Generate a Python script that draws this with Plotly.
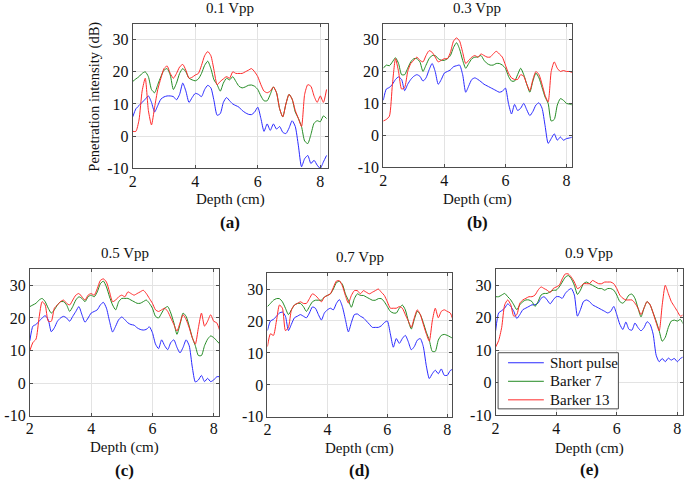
import plotly.graph_objects as go

# ---------------- data ----------------
depth = [2.0, 2.1, 2.2, 2.3, 2.4, 2.5, 2.6, 2.7, 2.8, 2.9,
         3.0, 3.1, 3.2, 3.3, 3.4, 3.5, 3.6, 3.7, 3.8, 3.9,
         4.0, 4.1, 4.2, 4.3, 4.4, 4.5, 4.6, 4.7, 4.8, 4.9,
         5.0, 5.1, 5.2, 5.3, 5.4, 5.5, 5.6, 5.7, 5.8, 5.9,
         6.0, 6.1, 6.2, 6.3, 6.4, 6.5, 6.6, 6.7, 6.8, 6.9,
         7.0, 7.1, 7.2, 7.3, 7.4, 7.5, 7.6, 7.7, 7.8, 7.9,
         8.0, 8.1, 8.2]

series_names = ["Short pulse", "Barker 7", "Barker 13"]
panel_titles = ["0.1 Vpp", "0.3 Vpp", "0.5 Vpp", "0.7 Vpp", "0.9 Vpp"]
panel_labels = ["(a)", "(b)", "(c)", "(d)", "(e)"]
x_tickvals = [2, 4, 6, 8]
y_tickvals = [-10, 0, 10, 20, 30]
y_ticktext = ["-10", "0", "10", "20", "30"]

# 0.1 Vpp
a_short = [6, 8.5, 9.5, 10.5, 11.5, 12.5, 10.5, 7.5, 9.5, 11.5,
           12.2, 12.5, 12.5, 12.3, 11.3, 13, 16.5, 14, 10.5, 12,
           13.3, 13, 12.3, 14.5, 15.8, 15, 11, 6.5, 7, 10.5,
           12, 11, 10, 9.5, 9, 8, 7.3, 6.8, 6.7, 7.5,
           9, 5.5, 1.5, 3.8, 1.8, 3.8, 2.2, 3, 1.2, 0.8,
           2.5, 4.8, 3, -3, -9.5, -7, -6, -8.5, -7.5, -9,
           -10, -8, -6]
a_b7 = [17, 17.8, 18.5, 19.5, 20, 18.5, 14.5, 13.5, 16, 18.5,
        20.5, 21, 19, 14.5, 16.5, 19.5, 21, 20, 18, 17.5,
        17.2, 17.8, 19.5, 22, 23.3, 21, 17.5, 16, 14, 16.5,
        18, 17.5, 18.5, 17, 15.5, 15, 15.3, 15.8, 15.9, 15.5,
        14.5, 12.5, 11, 11, 13, 15.3, 13.5, 8.5, 6, 10,
        13, 11.5, 7.5, 5.5, 3, -1.5, -2.3, 0.5, 4, 4.8,
        4.5, 6.3, 5.5]
a_b13 = [1.5, 1.5, 5, 14, 18, 8, 3.5, 9, 14.5, 18,
         21, 21.8, 19.5, 18, 19.5, 21.5, 22.3, 20.5, 18, 18.3,
         19, 19.5, 22, 25, 26.3, 25, 20.5, 16, 17, 17.8,
         18.5, 18, 20, 19.5, 19.5, 19.5, 20, 20.5, 21, 20,
         18.5, 16, 14, 13.5, 14, 15.3, 13.5, 8.5, 6, 10,
         13, 11.5, 8, 5.5, 3, 13, 16, 15.5, 12.5, 10.5,
         12.5, 10.5, 14.5]

# 0.3 Vpp
b_short = [11, 14.5, 15, 16, 17.5, 18.3, 17.5, 14, 16, 17.5,
           18.5, 19, 18.5, 17, 18, 20.5, 22.5, 20, 16, 17.5,
           19.5, 20, 20.5, 21.5, 21.8, 22, 19, 13.5, 15.5, 17.5,
           18, 17.5, 16.8, 16, 15.5, 15, 14.5, 14, 13.5, 13.8,
           14.8, 10, 6.7, 9.7, 7.8, 8.5, 10, 8, 6.2, 7.5,
           9.5, 10.2, 8.5, 3, -2.5, -1, 0.5, -1.5, -0.5, -1.5,
           -1, -0.8, -0.5]
b_b7 = [21, 22, 21.8, 23, 24.3, 22.5, 19, 19, 21, 23,
        24, 24, 23, 20, 22, 24, 25, 25, 24, 23.5,
        23.5, 24, 25, 27.5, 29, 27, 23.5, 21, 22.5, 24,
        24.5, 24.5, 25, 23.5, 22.5, 22, 22, 22.5, 22.5, 22,
        21, 18.5, 17, 17, 19, 21, 19, 16, 13.5, 17,
        19.5, 18, 15, 12, 10, 4.5, 5, 9.5, 11.5, 11,
        10, 9.8, 9.5]
b_b13 = [4.5, 5, 6, 16, 24, 20, 14.5, 15, 20, 22.5,
         23.5, 24.5, 23.5, 23, 25, 26.5, 26, 24.5, 23, 23.5,
         24, 24, 26, 29.5, 30.5, 29.5, 26, 22.5, 23.5, 24.5,
         25, 24.5, 25.5, 25, 24.5, 24.5, 25.5, 26.3, 25.5, 24.5,
         22, 19.5, 18, 17.5, 17.5, 19, 18.5, 16, 14, 17.5,
         20, 19, 16, 12.5, 10.5, 20, 23, 21, 20, 20.3,
         20, 20, 19.5]

# 0.5 Vpp
c_short = [13, 17.5, 18, 19, 20, 20.7, 19.5, 15.8, 17, 19,
           20, 20.5, 20, 19, 20.5, 22, 23.5, 21, 18.7, 20,
           21.5, 22, 22.5, 24, 24.8, 23, 19, 15.7, 17.5, 19.5,
           20.3, 19.5, 18.5, 18, 17.8, 17, 16.5, 16.3, 16.5, 17.3,
           15.5, 12, 10.6, 13.3, 11.5, 10.3, 12.5, 13.3, 11, 9.3,
           11, 13.3, 11.5, 5, 0.4, 1, 2.4, 0.5, 1.5, 0.5,
           1, 2, 2]
c_b7 = [23.5, 24, 24.5, 25.5, 26, 25, 23, 21.5, 22.5, 24,
        25, 25, 24, 22, 23.5, 25.5, 26.5, 26, 25, 26.5,
        27, 26.5, 28, 30.5, 31.3, 29.5, 26.5, 24, 22.5, 25,
        26, 26, 26, 25.5, 25, 24.5, 24.5, 25, 25.5, 24.5,
        23, 20.5, 20, 21.5, 23, 23.5, 21.5, 18.5, 15, 18,
        21.5, 20.5, 17.5, 14, 11.5, 8.5, 8.5, 11.5, 13.5, 14.5,
        14, 13, 12]
c_b13 = [10, 12.5, 13.5, 20, 25, 24, 19, 19, 23, 24,
         25, 25.5, 24.5, 24, 25.5, 27, 27.5, 26.5, 25.5, 27,
         27.5, 27, 29, 31.5, 32, 31, 28, 25, 25.5, 26.5,
         27, 26.5, 28, 27.5, 27, 27.5, 28, 28.5, 27.5, 26,
         24.5, 22.5, 22, 22.5, 23, 22, 20, 18, 16, 18.5,
         21, 19.5, 17, 14, 12, 17, 21.5, 17.5, 19, 21,
         19, 18.5, 16]

# 0.7 Vpp
d_short = [17, 20, 20.5, 21.5, 22.5, 22.8, 21.5, 17, 19, 21,
           21.5, 22, 21.5, 21, 22.5, 24.4, 24, 22, 20.3, 22.5,
           23.5, 24, 23.5, 25.5, 26.7, 24.5, 20.5, 16.6, 19.5, 22,
           22.2, 21.5, 21, 20, 19, 18, 18, 18, 18.5, 19.5,
           20, 16, 11.8, 14.5, 13, 14.5, 15.5, 13.5, 11, 12,
           14, 14.5, 12, 6, 2, 3.5, 4.6, 3.5, 5, 3,
           3, 4.5, 5]
d_b7 = [24.5, 25.5, 26.5, 27, 27, 26, 24, 22, 23.5, 25,
        25.5, 25.5, 24.5, 23, 24.5, 26, 26.5, 26.5, 26.5, 27.5,
        28, 28.5, 30, 32, 32.4, 31.5, 28.5, 26.5, 24.3, 27,
        28.5, 28, 28, 27.5, 27, 26.5, 26.5, 27, 27, 26,
        24.5, 23, 22.5, 22.5, 24, 25, 23.5, 20, 17.5, 20.5,
        23, 22, 19.5, 16.5, 14, 10.5, 10.5, 14, 15.5, 15.8,
        15.5, 15, 14.5]
d_b13 = [12, 16, 15.5, 20, 25, 24, 17, 18, 23.5, 25,
         25.5, 26, 25.5, 25.5, 27, 28.5, 28, 27, 26, 27.5,
         28, 28.5, 30.5, 32.5, 32.6, 31, 28, 25.6, 28, 29.5,
         29.5, 28.5, 29.5, 29, 28.5, 29, 29.5, 30, 29, 28,
         26, 24, 24, 24, 24.5, 24, 22, 20, 18, 21,
         23.5, 22, 19, 16, 13.7, 20, 24, 21, 23, 23.5,
         23, 22.5, 20]

# 0.9 Vpp
e_short = [16, 21.5, 22.2, 23, 24.3, 23.5, 22, 19.8, 21, 22.5,
           23, 23.5, 24, 24, 24.5, 26, 26.5, 25.5, 24.3, 25.5,
           26.5, 26.5, 26, 27.5, 28.5, 29, 27, 20.5, 22.5, 25,
           25.5, 25, 24, 23.5, 23, 22.5, 22, 21.5, 22, 23.5,
           21, 18, 16.4, 18.7, 16.5, 16.2, 18.4, 17, 16, 17,
           18.8, 18, 15, 8.5, 6.5, 7.5, 6.5, 7.6, 7, 7.5,
           6.5, 7.5, 8]
e_b7 = [26.5, 26.5, 27, 27.5, 26.5, 25.5, 24, 22.5, 24, 25,
        25.5, 25.5, 25, 23.5, 25, 27, 27.5, 27.5, 28, 28.5,
        28.5, 29.5, 31, 32.5, 33, 32, 30, 27.2, 28.5, 30.5,
        31, 30.5, 30, 29.5, 29, 29, 28.5, 29, 29, 28.5,
        27, 25, 24.5, 25.5, 27, 27.3, 26, 23, 20.3, 23,
        25, 24, 21.5, 19, 16, 12.8, 14, 17, 19, 19.3,
        19, 19.5, 18]
e_b13 = [11, 13, 17, 24, 25.5, 24, 20.5, 21, 24.5, 25.5,
         26, 26.5, 26.5, 27, 28.5, 29.5, 29, 28.5, 27.8, 29,
         29.5, 30, 32, 33.5, 33.5, 32.5, 31, 29, 29.5, 30.5,
         30.5, 30.5, 31.5, 31, 30.5, 30.5, 31, 31, 31, 30.5,
         29, 27, 26, 25.5, 25.5, 25.5, 24.5, 23, 21, 23,
         25, 24, 21.5, 18.5, 16, 24, 30, 27.5, 25, 23.5,
         22, 20.5, 21]

panels = [
    (a_short, a_b7, a_b13),
    (b_short, b_b7, b_b13),
    (c_short, c_b7, c_b13),
    (d_short, d_b7, d_b13),
    (e_short, e_b7, e_b13),
]

# ---------------- layout (pixel geometry) ----------------
W, H = 685, 480          # reference geometry (px)
FIG_H = 490              # rendered page height; fills the browser viewport
colors = ["#2a2aff", "#238a23", "#ff2a2a"]
FONT = "Liberation Serif"
FRAME = "#4d4d4d"

# plot-area boxes: left, right, top, bottom (px)
boxes = [
    (129.5, 326.0, 23.5, 168.0),
    (381.5, 571.0, 23.5, 167.0),
    (26.0, 216.5, 268.5, 415.0),
    (265.0, 451.0, 272.5, 416.0),
    (494.5, 682.5, 268.5, 414.5),
]
x_right = [8.25, 8.17, 8.18, 8.17, 8.17]
title_y = [8, 8, 252, 256, 252]
xlab_y = [199, 199, 447, 448, 448]
plab_y = [222, 222, 470, 470, 469]

# legend geometry (px)
leg_box = (497, 618, 352, 408)
leg_rows = [362, 380.5, 399]
leg_line_x = (507, 543)
leg_text_x = 547


def px(x):
    return x / W


def py(y):
    return 1 - y / H


fig = go.Figure()
annotations = []
shapes = []
layout_axes = {}

for i, (vals, box) in enumerate(zip(panels, boxes)):
    n = "" if i == 0 else str(i + 1)
    l, r, t, b = box
    for k, (ys, name) in enumerate(zip(vals, series_names)):
        fig.add_trace(go.Scatter(
            x=depth, y=ys, mode="lines", name=name,
            line=dict(color=colors[k], width=1, shape="spline", smoothing=0.6),
            xaxis="x" + n, yaxis="y" + n,
            showlegend=False,
        ))
    axcommon = dict(
        showline=True, linecolor=FRAME, linewidth=1, mirror="ticks",
        ticks="inside", ticklen=3, tickcolor=FRAME,
        showgrid=True, gridcolor="#e3e3e3", gridwidth=1, zeroline=False,
        tickfont=dict(family=FONT, size=16, color="#111111"),
    )
    layout_axes["xaxis" + n] = dict(
        axcommon, domain=[px(l), px(r)], range=[2, x_right[i]],
        tickvals=x_tickvals, anchor="y" + n, ticklabelstandoff=-2,
    )
    layout_axes["yaxis" + n] = dict(
        axcommon, domain=[py(b), py(t)], range=[-10, 35],
        tickvals=y_tickvals, ticktext=y_ticktext, anchor="x" + n,
    )
    cx = (l + r) / 2
    annotations.append(dict(text=panel_titles[i], x=px(cx), y=py(title_y[i]),
                            xref="paper", yref="paper", showarrow=False,
                            xanchor="center", yanchor="middle",
                            font=dict(family=FONT, size=15, color="#111111")))
    annotations.append(dict(text="Depth (cm)", x=px(cx), y=py(xlab_y[i]),
                            xref="paper", yref="paper", showarrow=False,
                            xanchor="center", yanchor="middle",
                            font=dict(family=FONT, size=15, color="#111111")))
    annotations.append(dict(text="<b>" + panel_labels[i] + "</b>", x=px(cx), y=py(plab_y[i]),
                            xref="paper", yref="paper", showarrow=False,
                            xanchor="center", yanchor="middle",
                            font=dict(family=FONT, size=17, color="#111111")))

annotations.append(dict(text="Penetration intensity (dB)", x=px(91), y=py(96),
                        xref="paper", yref="paper", showarrow=False, textangle=-90,
                        xanchor="center", yanchor="middle",
                        font=dict(family=FONT, size=14.5, color="#111111")))

# legend drawn in panel (e)
lx0, lx1, ly0, ly1 = leg_box
shapes.append(dict(type="rect", xref="paper", yref="paper",
                   x0=px(lx0), x1=px(lx1), y0=py(ly1), y1=py(ly0),
                   fillcolor="white", line=dict(color=FRAME, width=1), layer="above"))
for k, name in enumerate(series_names):
    yy = leg_rows[k]
    shapes.append(dict(type="line", xref="paper", yref="paper",
                       x0=px(leg_line_x[0]), x1=px(leg_line_x[1]), y0=py(yy), y1=py(yy),
                       line=dict(color=colors[k], width=1), layer="above"))
    annotations.append(dict(text=name, x=px(leg_text_x), y=py(yy),
                            xref="paper", yref="paper", showarrow=False,
                            xanchor="left", yanchor="middle",
                            font=dict(family=FONT, size=15, color="#111111")))

fig.update_layout(
    width=W, height=FIG_H,
    margin=dict(l=0, r=0, t=0, b=0),
    paper_bgcolor="white", plot_bgcolor="white",
    annotations=annotations,
    shapes=shapes,
    showlegend=False,
    **layout_axes,
)

page_fix = (
    "var d=document.documentElement,b=document.body;"
    "d.style.margin='0';d.style.padding='0';d.style.overflow='hidden';"
    "b.style.margin='0';b.style.padding='0';b.style.overflow='hidden';"
    "window.scrollTo(0,0);"
)

fig.write_html(
    "out.html",
    config={"displayModeBar": False},
    post_script=page_fix,
)
